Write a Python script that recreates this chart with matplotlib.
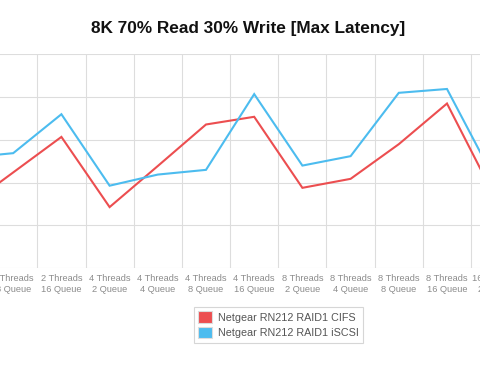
import matplotlib
matplotlib.use('Agg')
import matplotlib.pyplot as plt
from matplotlib.patches import Patch
from matplotlib.ticker import FixedLocator

plt.rcParams['font.family'] = ['Liberation Sans', 'DejaVu Sans']

# categories (the picture is a crop, so the first and last ones sit off the edges)
categories = ['2 Threads\n4 Queue', '2 Threads\n8 Queue', '2 Threads\n16 Queue',
              '4 Threads\n2 Queue', '4 Threads\n4 Queue', '4 Threads\n8 Queue',
              '4 Threads\n16 Queue', '8 Threads\n2 Queue', '8 Threads\n4 Queue',
              '8 Threads\n8 Queue', '8 Threads\n16 Queue', '16 Threads\n2 Queue']

cifs = [14.1, 22.4, 30.7, 14.3, 23.9, 33.6, 35.4, 18.8, 20.9, 29.0, 38.5, 16.5]
iscsi = [25.8, 26.9, 36.0, 19.3, 21.9, 23.0, 40.7, 24.0, 26.2, 41.0, 41.9, 20.5]

series_names = ['Netgear RN212 RAID1 CIFS', 'Netgear RN212 RAID1 iSCSI']
colors = ['#ec4e50', '#4cbcef']

fig = plt.figure(figsize=(4.8, 3.72), dpi=100)
ax = fig.add_axes([0, 0.2788, 1, 0.5752])

x = list(range(len(categories)))
ax.plot(x, cifs, color=colors[0], lw=1.5, solid_joinstyle='miter')
ax.plot(x, iscsi, color=colors[1], lw=1.5, solid_joinstyle='miter')

ax.set_xticks(x)
ax.set_xticklabels(categories, fontsize=6.7, color='#8c8c8c', linespacing=1.3)
ax.xaxis.set_minor_locator(FixedLocator([i + 0.5 for i in x]))
ax.tick_params(axis='x', which='both', length=0, pad=4)
ax.set_yticks([0, 10, 20, 30, 40, 50])
ax.tick_params(axis='y', length=0, labelleft=False)
ax.set_xlim(0.726, 10.685)
ax.set_ylim(0, 50)
ax.grid(axis='x', which='minor', color='#dddddd', lw=0.8)
ax.grid(axis='y', which='major', color='#dddddd', lw=0.8)
ax.set_axisbelow(True)
for s in ax.spines.values():
    s.set_visible(False)

# last category label sits past the right edge, tick labels outside the view get dropped
ax.annotate(categories[-1], xy=(x[-1], 0), xycoords=('data', 'axes fraction'),
            xytext=(0, -4), textcoords='offset points', ha='center', va='top',
            fontsize=6.7, color='#8c8c8c', linespacing=1.3, annotation_clip=False)

fig.text(0.516, 0.9226, '8K 70% Read 30% Write [Max Latency]', ha='center', va='center',
         fontsize=12.45, fontweight='bold', color='#111111')

handles = [Patch(facecolor=c, edgecolor='#dddddd', lw=0.8) for c in colors]
leg = fig.legend(handles, series_names, loc='upper left', bbox_to_anchor=(0.404, 0.175),
                 fontsize=7.75, frameon=True, fancybox=False, edgecolor='#cccccc',
                 handlelength=1.3, handleheight=1.3, handletextpad=0.5,
                 labelspacing=0.35, borderpad=0.4, borderaxespad=0)
leg.get_frame().set_linewidth(0.8)
for t in leg.get_texts():
    t.set_color('#555555')

fig.savefig('out.png', dpi=100)
